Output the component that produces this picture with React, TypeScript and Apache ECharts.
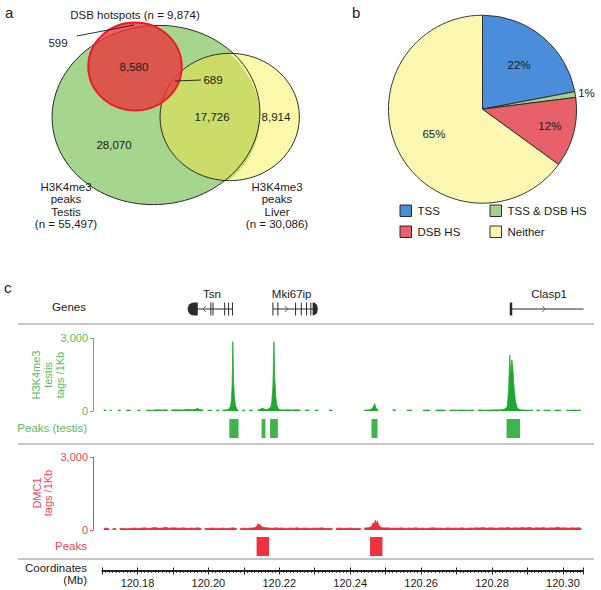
import React, { useEffect, useRef } from "react";
import * as echarts from "echarts";

const FONT = '"Liberation Sans", Arial, Helvetica, sans-serif';

// ---------- Panel a : Venn ----------
const vennSetLabels = ["DSB hotspots (n = 9,874)", "H3K4me3\npeaks\nTestis\n(n = 55,497)", "H3K4me3\npeaks\nLiver\n(n = 30,086)"];
const vennRegionNames = ["dsbOnly", "dsbTestis", "dsbTestisLiver", "testisLiver", "liverOnly", "testisOnly"];
const vennRegionCounts = [599, 8580, 689, 17726, 8914, 28070];

// ---------- Panel b : Pie ----------
const pieCategories = ["TSS", "TSS & DSB HS", "DSB HS", "Neither"];
const pieValues = [22, 1, 12, 65];
const pieColors = ["#4a8edb", "#a3d18f", "#e8606a", "#fcf7b0"];

// ---------- Panel c : tracks ----------
const coordMin = 120.17;
const coordMax = 120.3058;
const coordTickLabels = ["120.18", "120.20", "120.22", "120.24", "120.26", "120.28", "120.30"];

const geneNames = ["Tsn", "Mki67ip", "Clasp1"];
const geneStarts = [120.1942, 120.2182, 120.2850];
const geneEnds = [120.2069, 120.2308, 120.3058];
const geneStrands = ["-", "+", "+"];
const geneExons = [
  [120.2007, 120.2013, 120.2046, 120.2057, 120.2068],
  [120.2182, 120.2196, 120.2246, 120.2262, 120.2277, 120.2289],
  [],
];
const geneEndBlocks = [
  [120.1942, 120.197],
  [120.2294, 120.2308],
  [120.285, 120.2857],
];
const geneArrowPos = [120.1985, 120.2224, 120.295];
const geneLabelPos = [120.201, 120.2235, 120.2961];

const testisPeakStarts = [120.2059, 120.215, 120.2174, 120.246, 120.2841];
const testisPeakEnds = [120.2085, 120.2161, 120.2196, 120.2477, 120.2879];
const dmc1PeakStarts = [120.2136, 120.2456];
const dmc1PeakEnds = [120.2171, 120.2491];

const yTicks = [0, 3000];

// H3K4me3 testis coverage (tags / 1Kb); null = no reads
const h3k4me3Signal: [number, number | null][] = [
  [120.1705, 50], [120.1712, 30], [120.1716, null],
  [120.1722, 40], [120.1728, 20], [120.1733, null],
  [120.1745, 30], [120.1752, 50], [120.1756, null],
  [120.1768, 30], [120.1775, 40], [120.1781, 30], [120.1785, null],
  [120.18, 40], [120.1808, 30], [120.1812, null],
  [120.1825, 40], [120.184, 30], [120.1855, 50], [120.187, 40], [120.1885, 50], [120.1889, null],
  [120.1895, 40], [120.191, 50], [120.1925, 40], [120.194, 60], [120.1955, 50], [120.1965, 70],
  [120.197, 110], [120.1975, 60], [120.1985, 40], [120.199, null],
  [120.1998, 30], [120.201, 40], [120.2014, null],
  [120.2022, 30], [120.203, 40], [120.2034, null],
  [120.204, 30], [120.2052, 50], [120.2058, 80], [120.2062, 180], [120.2065, 420], [120.2067, 1100],
  [120.2069, 2850], [120.2071, 1300], [120.2073, 650], [120.2076, 250], [120.208, 90], [120.2084, 40], [120.2088, null],
  [120.2095, 30], [120.2103, 40], [120.2107, null],
  [120.2115, 30], [120.2125, 40], [120.2129, null],
  [120.214, 40], [120.2148, 80], [120.2152, 120], [120.2156, 90], [120.2162, 60], [120.2168, 70],
  [120.2176, 150], [120.2179, 400], [120.2182, 1000], [120.2185, 2850], [120.2187, 1400], [120.219, 600],
  [120.2193, 250], [120.2197, 100], [120.2202, 50], [120.221, 40], [120.2222, 50], [120.2235, 40],
  [120.2248, 50], [120.226, 40], [120.2264, null],
  [120.2272, 30], [120.2285, 40], [120.2289, null],
  [120.23, 30], [120.231, 40], [120.2314, null],
  [120.2325, 30], [120.233, null],
  [120.234, 40], [120.235, 30], [120.2354, null],
  [120.2365, 30], [120.2369, null],
  [120.238, 40], [120.2384, null],
  [120.2395, 30], [120.2399, null],
  [120.241, 40], [120.2414, null],
  [120.2425, 30], [120.2429, null],
  [120.244, 40], [120.245, 40], [120.2458, 60], [120.2463, 120], [120.2466, 200], [120.2469, 300],
  [120.2472, 150], [120.2475, 70], [120.2479, 40], [120.2483, null],
  [120.249, 30], [120.2494, null],
  [120.2505, 40], [120.2509, null],
  [120.252, 40], [120.2528, 60], [120.2532, null],
  [120.2545, 30], [120.2549, null],
  [120.256, 30], [120.2568, 40], [120.2575, 30], [120.2579, null],
  [120.259, 40], [120.2594, null],
  [120.2605, 30], [120.2615, 40], [120.2625, 40], [120.2629, null],
  [120.264, 30], [120.265, 40], [120.266, 40], [120.267, 30], [120.2674, null],
  [120.268, 30], [120.269, 40], [120.27, 30], [120.271, 40], [120.272, 40], [120.273, 30], [120.274, 40], [120.275, 30], [120.2754, null],
  [120.276, 40], [120.277, 40], [120.278, 30], [120.279, 40], [120.28, 40], [120.281, 50], [120.282, 40],
  [120.283, 60], [120.2838, 90], [120.2843, 200], [120.2847, 900], [120.285, 2300], [120.2853, 1500],
  [120.2856, 2100], [120.2859, 1700], [120.2862, 1000], [120.2866, 400], [120.2871, 120], [120.2878, 60],
  [120.2885, 40], [120.2895, 40], [120.2905, 30], [120.2915, 40], [120.2919, null],
  [120.2925, 30], [120.2935, 40], [120.2939, null],
  [120.2945, 40], [120.2955, 30], [120.2965, 40], [120.2969, null],
  [120.2975, 30], [120.2985, 40], [120.2995, 30], [120.2999, null],
  [120.301, 40], [120.302, 30], [120.303, 40], [120.304, 30], [120.305, 40],
];

// DMC1 coverage (tags / 1Kb)
const dmc1Signal: [number, number | null][] = [
  [120.1705, 60], [120.1712, 80], [120.172, 50], [120.1724, null],
  [120.173, 60], [120.174, 50], [120.1744, null],
  [120.175, 60], [120.176, 70], [120.177, 50], [120.178, 60], [120.179, 80], [120.18, 60], [120.181, 70],
  [120.182, 90], [120.183, 60], [120.184, 80], [120.185, 100], [120.186, 70], [120.187, 80], [120.188, 110],
  [120.189, 70], [120.19, 90], [120.191, 80], [120.192, 70], [120.193, 90], [120.194, 60], [120.195, 80],
  [120.196, 70], [120.197, 90], [120.198, 60], [120.1984, null],
  [120.199, 70], [120.2, 60], [120.201, 80], [120.202, 70], [120.203, 60], [120.204, 80], [120.205, 60],
  [120.206, 70], [120.207, 90], [120.208, 60], [120.2084, null],
  [120.209, 60], [120.21, 70], [120.211, 60], [120.212, 80], [120.213, 90], [120.2137, 150], [120.214, 260],
  [120.2142, 180], [120.2145, 240], [120.2148, 150], [120.2152, 120], [120.2158, 100], [120.2165, 90],
  [120.2172, 80], [120.218, 70], [120.219, 90], [120.22, 70], [120.221, 80], [120.222, 60], [120.223, 80],
  [120.224, 70], [120.225, 90], [120.226, 60], [120.227, 80], [120.228, 70], [120.229, 60], [120.23, 80],
  [120.231, 70], [120.232, 90], [120.233, 60], [120.234, 70], [120.235, 60], [120.2354, null],
  [120.236, 70], [120.237, 80], [120.238, 60], [120.239, 70], [120.24, 80], [120.241, 60], [120.242, 70],
  [120.243, 60], [120.2434, null],
  [120.244, 80], [120.245, 90], [120.2458, 120], [120.2462, 200], [120.2465, 300], [120.2468, 220],
  [120.2471, 400], [120.2474, 260], [120.2477, 380], [120.248, 200], [120.2484, 150], [120.2488, 100],
  [120.2495, 80], [120.2505, 90], [120.2515, 70], [120.2525, 80], [120.2535, 70], [120.2545, 90],
  [120.2555, 60], [120.2565, 80], [120.2575, 70], [120.2585, 90], [120.2595, 70], [120.2605, 80],
  [120.2615, 60], [120.2625, 80], [120.2635, 90], [120.2645, 70], [120.2655, 80], [120.2665, 60],
  [120.2675, 90], [120.2685, 70], [120.2695, 80], [120.2705, 70], [120.2715, 90], [120.2725, 60],
  [120.2735, 80], [120.2745, 70], [120.2755, 90], [120.2765, 80], [120.2775, 100], [120.2785, 70],
  [120.2795, 90], [120.2805, 80], [120.2815, 70], [120.2825, 90], [120.2835, 80], [120.2845, 100],
  [120.2855, 70], [120.2865, 90], [120.2875, 80], [120.2885, 100], [120.2895, 80], [120.2905, 110],
  [120.2915, 70], [120.2925, 90], [120.2935, 80], [120.2945, 100], [120.2955, 70], [120.2965, 90],
  [120.2975, 80], [120.2985, 110], [120.2995, 80], [120.3005, 90], [120.3015, 70], [120.3025, 90],
  [120.3035, 80], [120.3045, 90], [120.3052, 70],
];

// ---------- layout (positions / styles) ----------
const GREEN_TXT = "#5cba5c";
const GREEN_SIG = "#1fa830";
const GREEN_BOX = "#3db54a";
const RED_TXT = "#ee4655";
const RED_SIG = "#e8303c";
const RED_BOX = "#f0323f";

const ellGreen = { cx: 156, cy: 115, rx: 104, ry: 89.5, rot: 5 };
const ellYellow = { cx: 229.7, cy: 117, rx: 69.7, ry: 63.7, rot: 0 };
const ellRed = { cx: 135, cy: 66.5, rx: 46.7, ry: 44, rot: 0 };
const vennRegionPos: Record<string, [number, number]> = {
  dsbOnly: [58, 43],
  dsbTestis: [134, 67],
  dsbTestisLiver: [213, 80],
  testisLiver: [212, 117],
  liverOnly: [276, 117],
  testisOnly: [114, 145],
};
const vennSetPos: [number, number][] = [[135, 15], [66, 205.5], [277, 205.5]];

const PIE_C: [number, number] = [482.5, 109.2];
const PIE_R = 94;
const pieLabelRadius = [0.61, 1.12, 0.74, 0.58];

const GRID_LEFT = 102;
const GRID_W = 481.5;

function txt(x: number, y: number, text: string, o: any = {}) {
  const align = o.align || "center";
  return {
    type: "text",
    x,
    y,
    rotation: o.rotation || 0,
    silent: true,
    z: 10,
    style: {
      text,
      fill: o.fill || "#1a1a1a",
      fontSize: o.size || 11.5,
      fontFamily: FONT,
      fontWeight: "normal",
      textAlign: align,
      align,
      textVerticalAlign: "middle",
      verticalAlign: "middle",
      lineHeight: o.lh || 12.5,
    },
  };
}

// distance along a ray from (px,py) in direction (dx,dy) to a (rotated) ellipse boundary
function rayDist(px: number, py: number, dx: number, dy: number, e: any) {
  const a = (-e.rot * Math.PI) / 180; // screen rotation (anticlockwise positive)
  // rotate into ellipse frame: inverse of anticlockwise screen rotation
  const c = Math.cos(a);
  const s = Math.sin(a);
  const rx0 = px - e.cx;
  const ry0 = py - e.cy;
  const lx = rx0 * c - ry0 * s;
  const ly = rx0 * s + ry0 * c;
  const ldx = dx * c - dy * s;
  const ldy = dx * s + dy * c;
  const u = lx / e.rx;
  const v = ly / e.ry;
  const p = ldx / e.rx;
  const q = ldy / e.ry;
  const A = p * p + q * q;
  const B = u * p + v * q;
  const C = u * u + v * v - 1;
  return (-B + Math.sqrt(B * B - A * C)) / A;
}

function lensPoints() {
  const P = [205, 115];
  const pts: number[][] = [];
  for (let i = 0; i < 240; i++) {
    const a = (i / 240) * Math.PI * 2;
    const dx = Math.cos(a);
    const dy = Math.sin(a);
    const t = Math.min(rayDist(P[0], P[1], dx, dy, ellGreen), rayDist(P[0], P[1], dx, dy, ellYellow));
    pts.push([P[0] + t * dx, P[1] + t * dy]);
  }
  return pts;
}

function ellipseEl(e: any, style: any) {
  return {
    type: "ellipse",
    silent: true,
    x: e.cx,
    y: e.cy,
    rotation: (e.rot * Math.PI) / 180,
    shape: { cx: 0, cy: 0, rx: e.rx, ry: e.ry },
    style,
  };
}

function buildGraphic() {
  const els: any[] = [];
  // panel letters
  els.push(txt(5, 12, "a", { align: "left", size: 15 }));
  els.push(txt(352, 12, "b", { align: "left", size: 15 }));
  els.push(txt(4, 287, "c", { align: "left", size: 15 }));

  // Venn
  els.push(ellipseEl(ellGreen, { fill: "#a6d58e", stroke: "none" }));
  els.push(ellipseEl(ellYellow, { fill: "#fcf8aa", stroke: "none" }));
  els.push({ type: "polygon", silent: true, shape: { points: lensPoints() }, style: { fill: "#cbdc68", stroke: "none" } });
  els.push(ellipseEl(ellGreen, { fill: "none", stroke: "#1a1a1a", lineWidth: 0.9 }));
  els.push(ellipseEl(ellYellow, { fill: "none", stroke: "#1a1a1a", lineWidth: 0.9 }));
  els.push(ellipseEl(ellRed, { fill: "rgba(234,50,58,0.78)", stroke: "#ea1c24", lineWidth: 2 }));
  els.push({ type: "line", silent: true, shape: { x1: 77, y1: 36, x2: 134, y2: 25 }, style: { stroke: "#1a1a1a", lineWidth: 0.9 } });
  els.push({ type: "line", silent: true, shape: { x1: 175, y1: 81, x2: 201, y2: 80 }, style: { stroke: "#1a1a1a", lineWidth: 0.9 } });
  vennRegionNames.forEach((n, i) => {
    const [x, y] = vennRegionPos[n];
    els.push(txt(x, y, vennRegionCounts[i].toLocaleString("en-US")));
  });
  vennSetLabels.forEach((s, i) => els.push(txt(vennSetPos[i][0], vennSetPos[i][1], s)));

  // Pie labels
  const total = pieValues.reduce((a, b) => a + b, 0);
  let cum = 0;
  pieValues.forEach((v, i) => {
    const mid = ((90 - ((cum + v / 2) / total) * 360) * Math.PI) / 180;
    cum += v;
    const r = PIE_R * pieLabelRadius[i];
    els.push(txt(PIE_C[0] + r * Math.cos(mid), PIE_C[1] - r * Math.sin(mid), Math.round((v / total) * 100) + "%"));
  });
  // Pie legend
  pieCategories.forEach((c, i) => {
    const col = i % 2;
    const row = Math.floor(i / 2);
    const x = 400 + col * 90;
    const y = 205 + row * 21;
    els.push({ type: "rect", silent: true, shape: { x, y, width: 11.5, height: 11.5 }, style: { fill: pieColors[i], stroke: "#1a1a1a", lineWidth: 0.9 } });
    els.push(txt(x + 17.5, y + 6, c, { align: "left" }));
  });

  // track separators
  [324, 444, 559].forEach((y) =>
    els.push({ type: "line", silent: true, shape: { x1: 18, y1: y, x2: 594, y2: y }, style: { stroke: "#b4b4b4", lineWidth: 1.6 } })
  );
  // track labels
  els.push(txt(86, 307, "Genes", { align: "right", size: 11.5 }));
  els.push(txt(87, 428, "Peaks (testis)", { align: "right", size: 11.5, fill: GREEN_TXT }));
  els.push(txt(87, 546, "Peaks", { align: "right", size: 11.5, fill: RED_TXT }));
  els.push(txt(87, 568, "Coordinates", { align: "right", size: 11.5 }));
  els.push(txt(87, 579.5, "(Mb)", { align: "right", size: 11.5 }));
  els.push(txt(48, 375, "H3K4me3\ntestis\ntags /1Kb", { rotation: Math.PI / 2, fill: GREEN_TXT, size: 11, lh: 11.8 }));
  els.push(txt(42.5, 493, "DMC1\ntags /1Kb", { rotation: Math.PI / 2, fill: RED_TXT, size: 11, lh: 11.8 }));
  return els;
}

function geneRender(params: any, api: any) {
  const i = api.value(2);
  const X = (v: number) => api.coord([v, 0.5])[0];
  const yc = api.coord([geneStarts[i], 0.5])[1];
  const ink = "#2a2a2a";
  const children: any[] = [];
  children.push({ type: "line", shape: { x1: X(geneStarts[i]), y1: yc, x2: X(geneEnds[i]), y2: yc }, style: { stroke: ink, lineWidth: 1 } });
  geneExons[i].forEach((e) =>
    children.push({ type: "line", shape: { x1: X(e), y1: yc - 6.5, x2: X(e), y2: yc + 6.5 }, style: { stroke: ink, lineWidth: 1 } })
  );
  const b = geneEndBlocks[i];
  const w = X(b[1]) - X(b[0]);
  const isUtrEnd = i < 2;
  const rr = Math.min(w, 6);
  const r = isUtrEnd ? (geneStrands[i] === "-" ? [rr, 0, 0, rr] : [0, rr, rr, 0]) : 0;
  children.push({ type: "rect", shape: { x: X(b[0]), y: yc - 6.5, width: w, height: 13, r }, style: { fill: ink } });
  const ax = X(geneArrowPos[i]);
  const d = geneStrands[i] === "-" ? 3 : -3;
  children.push({
    type: "polyline",
    shape: { points: [[ax + d, yc - 3], [ax, yc], [ax + d, yc + 3]] },
    style: { stroke: "#555", lineWidth: 0.9, fill: "none" },
  });
  children.push({
    type: "text",
    style: {
      text: geneNames[i],
      x: X(geneLabelPos[i]),
      y: yc - 15,
      fill: "#1a1a1a",
      fontSize: 11.5,
      fontFamily: FONT,
      textAlign: "center",
      align: "center",
      textVerticalAlign: "middle",
      verticalAlign: "middle",
    },
  });
  return { type: "group", children };
}

function boxRender(color: string) {
  return (params: any, api: any) => {
    const s = api.coord([api.value(0), 0]);
    const e = api.coord([api.value(1), 1]);
    return { type: "rect", shape: { x: s[0], y: e[1], width: e[0] - s[0], height: s[1] - e[1] }, style: { fill: color } };
  };
}

function signalYAxis(gridIndex: number, color: string) {
  return {
    gridIndex,
    type: "value",
    min: yTicks[0],
    max: yTicks[1],
    interval: yTicks[1] - yTicks[0],
    offset: 9,
    axisLine: { show: true, lineStyle: { color, width: 1 } },
    axisTick: { show: true, length: 3, lineStyle: { color, width: 1 } },
    axisLabel: {
      color,
      fontSize: 11,
      fontFamily: FONT,
      margin: 5,
      formatter: (v: number) => v.toLocaleString("en-US"),
    },
    splitLine: { show: false },
  };
}

function hiddenX(gridIndex: number) {
  return { gridIndex, type: "value", min: coordMin, max: coordMax, show: false };
}
function hiddenY(gridIndex: number) {
  return { gridIndex, type: "value", min: 0, max: 1, show: false };
}

export default function App() {
  const ref = useRef<HTMLDivElement>(null);
  useEffect(() => {
    if (!ref.current) return;
    const chart = echarts.init(ref.current, undefined, { renderer: "svg" });
    const grids = [
      { top: 300, height: 18 },
      { top: 338, height: 73 },
      { top: 419, height: 19 },
      { top: 457, height: 73 },
      { top: 537, height: 19 },
      { top: 570, height: 1 },
    ].map((g) => ({ left: GRID_LEFT, width: GRID_W, top: g.top, height: g.height, containLabel: false }));

    const coordAxisBase = {
      gridIndex: 5,
      type: "value",
      min: coordMin,
      max: coordMax,
      interval: 0.01,
      axisLine: { show: true, onZero: false, lineStyle: { color: "#222", width: 1 } },
      splitLine: { show: false },
    };

    const option: any = {
      animation: false,
      backgroundColor: "#ffffff",
      textStyle: { fontFamily: FONT },
      grid: grids,
      xAxis: [
        hiddenX(0),
        hiddenX(1),
        hiddenX(2),
        hiddenX(3),
        hiddenX(4),
        {
          ...coordAxisBase,
          position: "bottom",
          axisTick: { show: true, length: 3.5, lineStyle: { color: "#222", width: 1 } },
          minorTick: { show: true, splitNumber: 10, length: 2, lineStyle: { color: "#222", width: 0.8 } },
          axisLabel: {
            show: true,
            color: "#1a1a1a",
            fontSize: 11,
            fontFamily: FONT,
            margin: 6,
            formatter: (v: number) => {
              const lbl = v.toFixed(2);
              return coordTickLabels.indexOf(lbl) >= 0 && Math.abs(v - parseFloat(lbl)) < 1e-6 ? lbl : "";
            },
          },
        },
        {
          ...coordAxisBase,
          position: "top",
          axisTick: { show: true, length: 2.5, lineStyle: { color: "#222", width: 1 } },
          axisLabel: { show: false },
        },
      ],
      yAxis: [
        hiddenY(0),
        signalYAxis(1, GREEN_TXT),
        hiddenY(2),
        signalYAxis(3, RED_TXT),
        hiddenY(4),
        hiddenY(5),
      ],
      graphic: { elements: buildGraphic() },
      series: [
        {
          type: "pie",
          center: PIE_C,
          radius: PIE_R,
          startAngle: 90,
          clockwise: true,
          silent: true,
          label: { show: false },
          labelLine: { show: false },
          itemStyle: { borderColor: "#222", borderWidth: 0.9 },
          data: pieCategories.map((c, i) => ({ name: c, value: pieValues[i], itemStyle: { color: pieColors[i] } })),
        },
        {
          type: "custom",
          xAxisIndex: 0,
          yAxisIndex: 0,
          silent: true,
          clip: false,
          renderItem: geneRender,
          encode: { x: [0, 1] },
          data: geneNames.map((_, i) => [geneStarts[i], geneEnds[i], i]),
        },
        {
          type: "line",
          xAxisIndex: 1,
          yAxisIndex: 1,
          silent: true,
          symbol: "none",
          connectNulls: false,
          lineStyle: { color: GREEN_SIG, width: 0.8 },
          areaStyle: { color: GREEN_SIG, opacity: 1 },
          data: h3k4me3Signal,
        },
        {
          type: "custom",
          xAxisIndex: 2,
          yAxisIndex: 2,
          silent: true,
          renderItem: boxRender(GREEN_BOX),
          encode: { x: [0, 1] },
          data: testisPeakStarts.map((s, i) => [s, testisPeakEnds[i]]),
        },
        {
          type: "line",
          xAxisIndex: 3,
          yAxisIndex: 3,
          silent: true,
          symbol: "none",
          connectNulls: false,
          lineStyle: { color: RED_SIG, width: 0.8 },
          areaStyle: { color: RED_SIG, opacity: 1 },
          data: dmc1Signal,
        },
        {
          type: "custom",
          xAxisIndex: 4,
          yAxisIndex: 4,
          silent: true,
          renderItem: boxRender(RED_BOX),
          encode: { x: [0, 1] },
          data: dmc1PeakStarts.map((s, i) => [s, dmc1PeakEnds[i]]),
        },
      ],
    };
    chart.setOption(option);
    return () => chart.dispose();
  }, []);

  return (
    <div
      ref={ref}
      style={{ position: "absolute", left: 0, top: 0, width: 601, height: 590, background: "#fff" }}
    />
  );
}
